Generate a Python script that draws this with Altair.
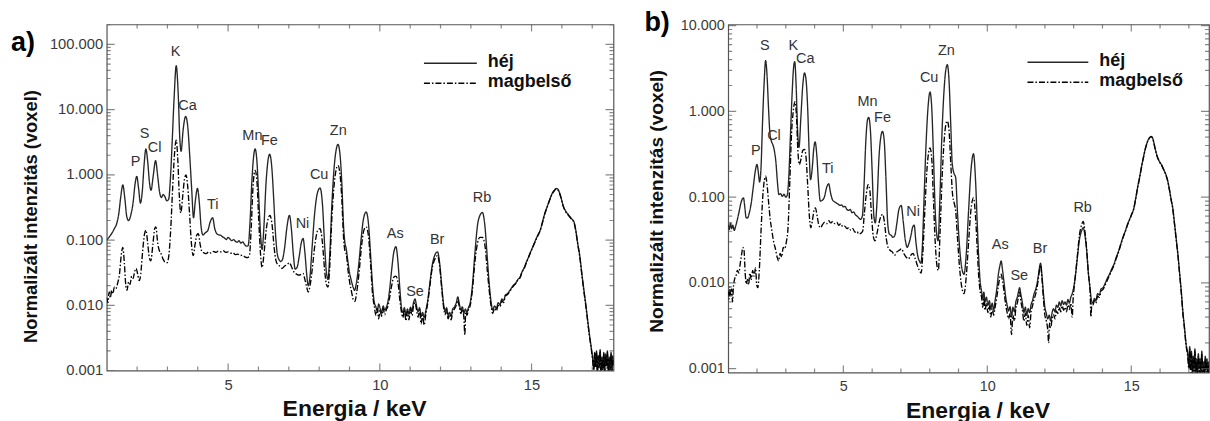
import altair as alt
import pandas as pd

FONT = "Liberation Sans"
SERIES = ["héj", "magbelső"]
SERIES_DASH = [[1, 0], [6, 2, 1.5, 2]]
SERIES_COLOR = ["#262626", "#000000"]

ENERGY_DOMAIN = [1.0, 17.7]
X_LABEL_TICKS = [5, 10, 15]
X_MINOR_TICKS = [2, 3, 4, 6, 7, 8, 9, 11, 12, 13, 14, 16, 17]

A_Y_DOMAIN = [0.001, 202]
B_Y_DOMAIN = [0.0009, 10.3]
A_Y_TICKS = [0.001, 0.01, 0.1, 1, 10, 100]
B_Y_TICKS = [0.001, 0.01, 0.1, 1, 10]

# ---- panel a) spectra (energy keV, normalised intensity) ----
shell_a = [
    (1.00, 0.100), (1.06, 0.108), (1.12, 0.118), (1.18, 0.130), (1.25, 0.150), (1.33, 0.180), (1.40, 0.26), (1.46, 0.45),
    (1.53, 0.70), (1.60, 0.42), (1.66, 0.23), (1.72, 0.20), (1.80, 0.25), (1.87, 0.38), (1.93, 0.70), (1.99, 0.95),
    (2.05, 0.62), (2.11, 0.37), (2.17, 0.55), (2.23, 1.40), (2.29, 2.5), (2.35, 1.6), (2.41, 0.75), (2.46, 0.58),
    (2.53, 0.95), (2.61, 1.65), (2.68, 0.95), (2.74, 0.55), (2.80, 0.45), (2.86, 0.50), (2.92, 0.46), (2.98, 0.40),
    (3.04, 0.42), (3.10, 0.9), (3.16, 3.5), (3.22, 15), (3.29, 47), (3.35, 20), (3.41, 3.5), (3.45, 2.3),
    (3.52, 5.0), (3.60, 7.9), (3.67, 5.5), (3.74, 1.8), (3.80, 0.6), (3.86, 0.22), (3.92, 0.40), (3.99, 0.62),
    (4.05, 0.38), (4.11, 0.16), (4.17, 0.12), (4.25, 0.13), (4.33, 0.14), (4.41, 0.19), (4.49, 0.22), (4.56, 0.15),
    (4.63, 0.125), (4.70, 0.12), (4.76, 0.118), (4.82, 0.112), (4.88, 0.108), (4.94, 0.102), (5.00, 0.110), (5.06, 0.104),
    (5.12, 0.098), (5.18, 0.102), (5.24, 0.096), (5.30, 0.093), (5.36, 0.098), (5.42, 0.090), (5.48, 0.094), (5.54, 0.086),
    (5.60, 0.081), (5.66, 0.082), (5.72, 0.18), (5.78, 0.75), (5.84, 1.9), (5.89, 2.5), (5.95, 1.6), (6.01, 0.45),
    (6.07, 0.12), (6.12, 0.072), (6.18, 0.16), (6.25, 0.75), (6.31, 1.6), (6.37, 2.07), (6.44, 1.3), (6.50, 0.45),
    (6.56, 0.13), (6.62, 0.062), (6.68, 0.050), (6.74, 0.047), (6.80, 0.052), (6.86, 0.075), (6.94, 0.16), (7.02, 0.24),
    (7.09, 0.14), (7.15, 0.06), (7.21, 0.036), (7.27, 0.038), (7.34, 0.055), (7.41, 0.09), (7.47, 0.106), (7.53, 0.065),
    (7.59, 0.03), (7.64, 0.02), (7.70, 0.028), (7.77, 0.08), (7.85, 0.25), (7.94, 0.52), (8.03, 0.63), (8.11, 0.35),
    (8.18, 0.085), (8.24, 0.032), (8.29, 0.025), (8.35, 0.06), (8.42, 0.35), (8.50, 1.4), (8.56, 2.4), (8.62, 2.94),
    (8.69, 2.0), (8.75, 0.7), (8.80, 0.18), (8.85, 0.09), (8.89, 0.075), (8.94, 0.05), (9.00, 0.032), (9.06, 0.024),
    (9.12, 0.019), (9.17, 0.017), (9.22, 0.021), (9.30, 0.04), (9.38, 0.10), (9.46, 0.21), (9.55, 0.27), (9.63, 0.17),
    (9.70, 0.055), (9.76, 0.02), (9.82, 0.011), (9.87, 0.0095), (9.92, 0.0080), (9.96, 0.0105), (10.01, 0.0090), (10.06, 0.0078),
    (10.11, 0.0098), (10.16, 0.0085), (10.21, 0.0092), (10.26, 0.011), (10.32, 0.017), (10.39, 0.035), (10.46, 0.065), (10.53, 0.079),
    (10.60, 0.045), (10.66, 0.018), (10.71, 0.0095), (10.76, 0.0078), (10.81, 0.0092), (10.86, 0.0070), (10.91, 0.0088), (10.96, 0.0073),
    (11.01, 0.0094), (11.06, 0.0082), (11.11, 0.011), (11.16, 0.0125), (11.21, 0.0098), (11.26, 0.0080), (11.31, 0.0092), (11.36, 0.0068),
    (11.41, 0.0078), (11.46, 0.0065), (11.52, 0.0085), (11.58, 0.012), (11.65, 0.022), (11.73, 0.042), (11.82, 0.060), (11.90, 0.066),
    (11.97, 0.045), (12.04, 0.020), (12.10, 0.0105), (12.15, 0.0082), (12.20, 0.0092), (12.25, 0.0070), (12.30, 0.0078), (12.35, 0.0068),
    (12.40, 0.0088), (12.46, 0.0095), (12.52, 0.011), (12.57, 0.0135), (12.62, 0.0105), (12.67, 0.0085), (12.72, 0.0095), (12.77, 0.0075),
    (12.82, 0.0088), (12.87, 0.0078), (12.92, 0.0092), (12.98, 0.011), (13.05, 0.020), (13.13, 0.06), (13.22, 0.17), (13.30, 0.24),
    (13.38, 0.265), (13.46, 0.17), (13.54, 0.055), (13.61, 0.020), (13.67, 0.011), (13.72, 0.0085), (13.78, 0.0098), (13.84, 0.0090),
    (13.90, 0.011), (13.96, 0.0102), (14.02, 0.0125), (14.08, 0.0118), (14.14, 0.0145), (14.20, 0.0150), (14.27, 0.0165), (14.34, 0.0185),
    (14.41, 0.0205), (14.48, 0.022), (14.55, 0.025), (14.62, 0.027), (14.69, 0.033), (14.76, 0.038), (14.83, 0.046), (14.90, 0.055),
    (14.95, 0.063), (15.02, 0.075), (15.10, 0.092), (15.19, 0.115), (15.28, 0.14), (15.36, 0.19), (15.44, 0.26), (15.52, 0.33),
    (15.60, 0.42), (15.68, 0.52), (15.75, 0.58), (15.82, 0.62), (15.89, 0.58), (15.96, 0.47), (16.04, 0.34), (16.12, 0.28),
    (16.20, 0.25), (16.26, 0.23), (16.33, 0.21), (16.40, 0.19), (16.46, 0.14), (16.52, 0.09), (16.59, 0.057), (16.66, 0.03),
    (16.72, 0.018), (16.78, 0.011), (16.84, 0.0065), (16.90, 0.0038), (16.96, 0.0024), (17.01, 0.0016), (17.05, 0.0011), (17.08, 0.0019),
    (17.11, 0.0012), (17.14, 0.0020), (17.17, 0.0010), (17.20, 0.0017), (17.23, 0.0012), (17.26, 0.0021), (17.29, 0.0010), (17.32, 0.0016),
    (17.35, 0.0011), (17.38, 0.0019), (17.41, 0.0010), (17.44, 0.0018), (17.47, 0.0012), (17.50, 0.0020), (17.53, 0.0010), (17.56, 0.0016),
    (17.59, 0.0011), (17.62, 0.0019), (17.65, 0.0010), (17.68, 0.0017), (17.71, 0.0012),
]

core_a = [
    (1.00, 0.013), (1.04, 0.011), (1.08, 0.016), (1.12, 0.013), (1.16, 0.017), (1.20, 0.015), (1.25, 0.019), (1.30, 0.018),
    (1.36, 0.022), (1.42, 0.030), (1.48, 0.060), (1.53, 0.077), (1.58, 0.045), (1.63, 0.020), (1.67, 0.017), (1.72, 0.023),
    (1.77, 0.021), (1.82, 0.028), (1.87, 0.026), (1.92, 0.033), (1.97, 0.037), (2.02, 0.030), (2.07, 0.024), (2.12, 0.030),
    (2.18, 0.065), (2.24, 0.12), (2.29, 0.142), (2.35, 0.09), (2.40, 0.055), (2.45, 0.048), (2.52, 0.085), (2.58, 0.15),
    (2.62, 0.16), (2.68, 0.09), (2.73, 0.070), (2.79, 0.062), (2.85, 0.052), (2.92, 0.046), (2.99, 0.045), (3.05, 0.060),
    (3.11, 0.15), (3.17, 0.6), (3.23, 2.0), (3.29, 3.4), (3.34, 1.8), (3.39, 0.5), (3.44, 0.26), (3.50, 0.45),
    (3.56, 0.85), (3.61, 1.0), (3.67, 0.65), (3.73, 0.25), (3.79, 0.09), (3.85, 0.058), (3.91, 0.085), (3.97, 0.12),
    (4.02, 0.125), (4.08, 0.085), (4.14, 0.066), (4.20, 0.064), (4.28, 0.062), (4.36, 0.066), (4.44, 0.063), (4.52, 0.067),
    (4.60, 0.065), (4.68, 0.068), (4.76, 0.066), (4.84, 0.069), (4.92, 0.065), (5.00, 0.066), (5.08, 0.063), (5.16, 0.064),
    (5.24, 0.060), (5.32, 0.061), (5.40, 0.058), (5.48, 0.059), (5.56, 0.055), (5.64, 0.054), (5.70, 0.058), (5.76, 0.15),
    (5.82, 0.65), (5.89, 1.17), (5.95, 0.8), (6.01, 0.2), (6.07, 0.06), (6.12, 0.038), (6.18, 0.06), (6.26, 0.15),
    (6.33, 0.22), (6.38, 0.24), (6.45, 0.17), (6.52, 0.075), (6.58, 0.048), (6.64, 0.042), (6.70, 0.040), (6.78, 0.037),
    (6.86, 0.040), (6.94, 0.042), (7.02, 0.045), (7.10, 0.038), (7.18, 0.032), (7.26, 0.030), (7.34, 0.029), (7.41, 0.030),
    (7.47, 0.031), (7.53, 0.025), (7.59, 0.019), (7.64, 0.016), (7.70, 0.020), (7.77, 0.035), (7.86, 0.085), (7.95, 0.14),
    (8.03, 0.15), (8.11, 0.09), (8.18, 0.035), (8.24, 0.021), (8.29, 0.019), (8.35, 0.04), (8.42, 0.22), (8.50, 0.75),
    (8.56, 1.2), (8.62, 1.40), (8.69, 1.0), (8.75, 0.4), (8.80, 0.12), (8.85, 0.068), (8.90, 0.060), (8.95, 0.035),
    (9.01, 0.022), (9.07, 0.016), (9.13, 0.012), (9.18, 0.0115), (9.23, 0.015), (9.31, 0.03), (9.39, 0.075), (9.47, 0.14),
    (9.55, 0.16), (9.63, 0.11), (9.70, 0.04), (9.76, 0.015), (9.82, 0.0095), (9.87, 0.0070), (9.92, 0.0090), (9.96, 0.0062),
    (10.01, 0.0085), (10.06, 0.0068), (10.11, 0.0090), (10.16, 0.0072), (10.21, 0.0085), (10.26, 0.0095), (10.32, 0.013), (10.39, 0.020),
    (10.46, 0.027), (10.53, 0.028), (10.60, 0.022), (10.66, 0.012), (10.71, 0.0080), (10.76, 0.0065), (10.81, 0.0085), (10.86, 0.0058),
    (10.91, 0.0080), (10.96, 0.0060), (11.01, 0.0088), (11.06, 0.0070), (11.11, 0.0098), (11.16, 0.011), (11.21, 0.0085), (11.26, 0.0066),
    (11.31, 0.0085), (11.36, 0.0052), (11.41, 0.0070), (11.46, 0.0050), (11.52, 0.0075), (11.58, 0.011), (11.65, 0.020), (11.73, 0.038),
    (11.82, 0.052), (11.90, 0.058), (11.97, 0.040), (12.04, 0.018), (12.10, 0.0095), (12.15, 0.0072), (12.20, 0.0085), (12.25, 0.0062),
    (12.30, 0.0072), (12.35, 0.0060), (12.40, 0.0080), (12.46, 0.0088), (12.52, 0.010), (12.57, 0.012), (12.62, 0.0095), (12.67, 0.0075),
    (12.72, 0.0088), (12.77, 0.0065), (12.80, 0.0035), (12.83, 0.0080), (12.87, 0.0070), (12.92, 0.0085), (12.98, 0.010), (13.05, 0.017),
    (13.13, 0.045), (13.22, 0.09), (13.30, 0.11), (13.38, 0.11), (13.46, 0.085), (13.54, 0.035), (13.61, 0.016), (13.67, 0.0095),
    (13.72, 0.0075), (13.78, 0.0090), (13.84, 0.0082), (13.90, 0.010), (13.96, 0.0095), (14.02, 0.0118), (14.08, 0.0110), (14.14, 0.0140),
    (14.20, 0.0145), (14.27, 0.0160), (14.34, 0.0180), (14.41, 0.0200), (14.48, 0.0215), (14.55, 0.0245), (14.62, 0.0265), (14.69, 0.0325),
    (14.76, 0.0370), (14.83, 0.045), (14.90, 0.054), (14.95, 0.062), (15.02, 0.074), (15.10, 0.090), (15.19, 0.113), (15.28, 0.138),
    (15.36, 0.185), (15.44, 0.255), (15.52, 0.325), (15.60, 0.415), (15.68, 0.51), (15.75, 0.57), (15.82, 0.61), (15.89, 0.57),
    (15.96, 0.46), (16.04, 0.335), (16.12, 0.275), (16.20, 0.245), (16.26, 0.225), (16.33, 0.205), (16.40, 0.185), (16.46, 0.135),
    (16.52, 0.088), (16.59, 0.055), (16.66, 0.029), (16.72, 0.017), (16.78, 0.0105), (16.84, 0.0062), (16.90, 0.0036), (16.96, 0.0023),
    (17.01, 0.0015), (17.05, 0.0010), (17.08, 0.0018), (17.11, 0.0011), (17.14, 0.0019), (17.17, 0.0009), (17.20, 0.0016), (17.23, 0.0011),
    (17.26, 0.0020), (17.29, 0.0009), (17.32, 0.0015), (17.35, 0.0010), (17.38, 0.0018), (17.41, 0.0009), (17.44, 0.0017), (17.47, 0.0011),
    (17.50, 0.0019), (17.53, 0.0009), (17.56, 0.0015), (17.59, 0.0010), (17.62, 0.0018), (17.65, 0.0009), (17.68, 0.0016), (17.71, 0.0011),
]

# ---- panel b) spectra ----
shell_b = [
    (1.00, 0.048), (1.04, 0.042), (1.08, 0.050), (1.12, 0.043), (1.16, 0.047), (1.21, 0.041), (1.26, 0.046), (1.32, 0.055),
    (1.38, 0.068), (1.44, 0.085), (1.49, 0.095), (1.53, 0.098), (1.58, 0.075), (1.62, 0.058), (1.67, 0.057), (1.73, 0.065),
    (1.80, 0.085), (1.87, 0.13), (1.94, 0.20), (2.00, 0.24), (2.05, 0.19), (2.09, 0.15), (2.14, 0.22), (2.19, 0.7),
    (2.25, 2.2), (2.30, 3.9), (2.35, 2.6), (2.40, 1.1), (2.45, 0.55), (2.50, 0.45), (2.56, 0.40), (2.61, 0.34),
    (2.66, 0.25), (2.71, 0.15), (2.76, 0.107), (2.82, 0.11), (2.88, 0.102), (2.94, 0.108), (3.00, 0.100), (3.05, 0.105),
    (3.10, 0.16), (3.16, 0.5), (3.22, 1.6), (3.27, 3.2), (3.31, 3.8), (3.36, 2.0), (3.41, 0.6), (3.46, 0.38),
    (3.52, 0.8), (3.59, 2.0), (3.65, 2.8), (3.70, 2.4), (3.76, 1.1), (3.81, 0.35), (3.86, 0.16), (3.92, 0.22),
    (3.97, 0.36), (4.02, 0.44), (4.08, 0.30), (4.14, 0.14), (4.20, 0.09), (4.27, 0.092), (4.34, 0.10), (4.42, 0.13),
    (4.49, 0.143), (4.56, 0.11), (4.63, 0.092), (4.70, 0.088), (4.76, 0.085), (4.82, 0.083), (4.88, 0.080), (4.94, 0.081),
    (5.00, 0.077), (5.06, 0.078), (5.12, 0.072), (5.18, 0.070), (5.24, 0.072), (5.30, 0.066), (5.36, 0.067), (5.42, 0.062),
    (5.48, 0.060), (5.54, 0.057), (5.60, 0.055), (5.66, 0.06), (5.72, 0.14), (5.78, 0.45), (5.84, 0.8), (5.88, 0.85),
    (5.94, 0.6), (6.00, 0.2), (6.06, 0.06), (6.11, 0.05), (6.17, 0.09), (6.24, 0.3), (6.30, 0.5), (6.36, 0.585),
    (6.42, 0.45), (6.48, 0.16), (6.54, 0.05), (6.60, 0.037), (6.66, 0.036), (6.72, 0.034), (6.79, 0.036), (6.86, 0.05),
    (6.93, 0.072), (7.01, 0.080), (7.08, 0.052), (7.15, 0.032), (7.22, 0.026), (7.28, 0.029), (7.35, 0.036), (7.41, 0.045),
    (7.46, 0.047), (7.52, 0.03), (7.58, 0.021), (7.64, 0.018), (7.69, 0.017), (7.74, 0.025), (7.80, 0.09), (7.87, 0.4),
    (7.94, 1.1), (8.01, 1.68), (8.07, 1.1), (8.13, 0.3), (8.19, 0.07), (8.25, 0.035), (8.29, 0.031), (8.35, 0.09),
    (8.42, 0.5), (8.49, 1.6), (8.55, 2.9), (8.61, 3.5), (8.67, 2.3), (8.73, 0.7), (8.78, 0.25), (8.84, 0.19),
    (8.90, 0.17), (8.96, 0.07), (9.03, 0.028), (9.10, 0.016), (9.19, 0.0126), (9.27, 0.022), (9.35, 0.07), (9.43, 0.2),
    (9.52, 0.32), (9.59, 0.16), (9.65, 0.05), (9.70, 0.02), (9.75, 0.0105), (9.80, 0.0080), (9.84, 0.0065), (9.88, 0.0078),
    (9.92, 0.0060), (9.97, 0.0068), (10.02, 0.0055), (10.07, 0.0062), (10.12, 0.0050), (10.17, 0.0058), (10.22, 0.0048), (10.27, 0.0062),
    (10.33, 0.0085), (10.39, 0.013), (10.44, 0.016), (10.48, 0.018), (10.53, 0.014), (10.59, 0.0095), (10.64, 0.0068), (10.69, 0.0055),
    (10.74, 0.0047), (10.79, 0.0053), (10.84, 0.0040), (10.89, 0.0052), (10.94, 0.0046), (10.99, 0.0060), (11.04, 0.0068), (11.08, 0.0078),
    (11.12, 0.0088), (11.17, 0.0072), (11.22, 0.0058), (11.27, 0.0045), (11.32, 0.0052), (11.37, 0.0042), (11.42, 0.0050), (11.47, 0.0045),
    (11.52, 0.0056), (11.57, 0.0062), (11.62, 0.0074), (11.67, 0.0082), (11.72, 0.0095), (11.77, 0.012), (11.81, 0.015), (11.85, 0.017),
    (11.90, 0.012), (11.95, 0.0075), (12.00, 0.0052), (12.05, 0.0044), (12.10, 0.0038), (12.15, 0.0042), (12.20, 0.0036), (12.25, 0.0045),
    (12.30, 0.0050), (12.35, 0.0046), (12.40, 0.0055), (12.45, 0.0052), (12.50, 0.0060), (12.55, 0.0054), (12.60, 0.0062), (12.65, 0.0056),
    (12.70, 0.0060), (12.75, 0.0055), (12.80, 0.0064), (12.85, 0.0058), (12.90, 0.0068), (12.95, 0.0075), (13.01, 0.0092), (13.07, 0.013),
    (13.13, 0.020), (13.20, 0.032), (13.27, 0.040), (13.33, 0.044), (13.39, 0.036), (13.45, 0.024), (13.51, 0.013), (13.57, 0.0085),
    (13.62, 0.0062), (13.67, 0.0058), (13.72, 0.0066), (13.77, 0.0062), (13.83, 0.0075), (13.89, 0.0072), (13.95, 0.0085), (14.02, 0.0088),
    (14.10, 0.0100), (14.18, 0.0115), (14.26, 0.0130), (14.33, 0.0148), (14.40, 0.0165), (14.47, 0.0195), (14.55, 0.023), (14.63, 0.028),
    (14.71, 0.034), (14.79, 0.040), (14.87, 0.048), (14.95, 0.056), (15.02, 0.064), (15.08, 0.072), (15.15, 0.095), (15.22, 0.13),
    (15.29, 0.17), (15.36, 0.23), (15.43, 0.30), (15.50, 0.38), (15.57, 0.45), (15.63, 0.49), (15.69, 0.51), (15.75, 0.48),
    (15.82, 0.38), (15.90, 0.30), (15.98, 0.26), (16.06, 0.235), (16.14, 0.205), (16.21, 0.18), (16.27, 0.153), (16.33, 0.12),
    (16.39, 0.092), (16.44, 0.075), (16.50, 0.05), (16.56, 0.033), (16.62, 0.0215), (16.68, 0.013), (16.74, 0.0078), (16.79, 0.0047),
    (16.85, 0.0030), (16.90, 0.0020), (16.96, 0.0015), (17.00, 0.0011), (17.03, 0.0018), (17.06, 0.0010), (17.09, 0.0016), (17.12, 0.0009),
    (17.15, 0.0014), (17.18, 0.0010), (17.21, 0.0017), (17.24, 0.0009), (17.27, 0.0013), (17.30, 0.0009), (17.33, 0.0015), (17.36, 0.0010),
    (17.39, 0.0013), (17.42, 0.0009), (17.45, 0.0016), (17.48, 0.0010), (17.51, 0.0012), (17.54, 0.0009), (17.57, 0.0014), (17.60, 0.0010),
    (17.63, 0.0013), (17.66, 0.0009), (17.69, 0.0012), (17.71, 0.0010),
]

core_b = [
    (1.00, 0.0081), (1.03, 0.0065), (1.06, 0.0090), (1.09, 0.0070), (1.12, 0.0085), (1.15, 0.0060), (1.18, 0.0088), (1.22, 0.011),
    (1.27, 0.012), (1.32, 0.014), (1.37, 0.013), (1.42, 0.017), (1.47, 0.022), (1.51, 0.026), (1.55, 0.024), (1.59, 0.013),
    (1.63, 0.0097), (1.67, 0.011), (1.71, 0.0095), (1.75, 0.013), (1.80, 0.011), (1.85, 0.014), (1.90, 0.012), (1.95, 0.015),
    (1.99, 0.0095), (2.03, 0.0088), (2.08, 0.014), (2.14, 0.04), (2.20, 0.10), (2.26, 0.16), (2.30, 0.175), (2.35, 0.14),
    (2.40, 0.09), (2.46, 0.055), (2.52, 0.04), (2.58, 0.03), (2.64, 0.025), (2.70, 0.020), (2.75, 0.018), (2.80, 0.022),
    (2.86, 0.020), (2.91, 0.026), (2.96, 0.025), (3.02, 0.030), (3.08, 0.045), (3.14, 0.15), (3.20, 0.55), (3.26, 1.0),
    (3.32, 1.3), (3.37, 0.9), (3.42, 0.35), (3.47, 0.24), (3.53, 0.28), (3.59, 0.35), (3.65, 0.36), (3.70, 0.30),
    (3.76, 0.14), (3.82, 0.06), (3.87, 0.044), (3.93, 0.055), (3.98, 0.070), (4.03, 0.075), (4.09, 0.06), (4.15, 0.047),
    (4.21, 0.044), (4.28, 0.048), (4.35, 0.051), (4.42, 0.049), (4.49, 0.053), (4.56, 0.050), (4.63, 0.052), (4.70, 0.049),
    (4.77, 0.051), (4.84, 0.047), (4.91, 0.049), (4.98, 0.045), (5.05, 0.046), (5.12, 0.043), (5.19, 0.044), (5.26, 0.041),
    (5.33, 0.043), (5.40, 0.039), (5.47, 0.040), (5.54, 0.037), (5.61, 0.038), (5.67, 0.040), (5.73, 0.065), (5.80, 0.11),
    (5.86, 0.14), (5.92, 0.12), (5.98, 0.06), (6.04, 0.035), (6.10, 0.031), (6.17, 0.038), (6.25, 0.052), (6.31, 0.060),
    (6.37, 0.063), (6.43, 0.05), (6.49, 0.033), (6.55, 0.026), (6.62, 0.024), (6.70, 0.023), (6.78, 0.021), (6.86, 0.023),
    (6.94, 0.024), (7.02, 0.025), (7.10, 0.022), (7.18, 0.020), (7.26, 0.019), (7.34, 0.021), (7.42, 0.022), (7.50, 0.019),
    (7.57, 0.016), (7.64, 0.014), (7.70, 0.013), (7.76, 0.022), (7.83, 0.07), (7.90, 0.20), (7.96, 0.33), (8.01, 0.375),
    (8.07, 0.28), (8.13, 0.09), (8.19, 0.03), (8.25, 0.016), (8.30, 0.014), (8.36, 0.04), (8.43, 0.17), (8.50, 0.45),
    (8.56, 0.70), (8.61, 0.77), (8.67, 0.6), (8.73, 0.25), (8.79, 0.11), (8.85, 0.085), (8.90, 0.07), (8.96, 0.035),
    (9.03, 0.016), (9.10, 0.0095), (9.19, 0.0075), (9.27, 0.012), (9.35, 0.03), (9.43, 0.07), (9.52, 0.098), (9.59, 0.06),
    (9.65, 0.025), (9.70, 0.012), (9.75, 0.0080), (9.80, 0.0068), (9.84, 0.0052), (9.88, 0.0066), (9.92, 0.0048), (9.97, 0.0058),
    (10.02, 0.0045), (10.07, 0.0055), (10.12, 0.0040), (10.17, 0.0050), (10.22, 0.0042), (10.27, 0.0052), (10.33, 0.0068), (10.39, 0.0095),
    (10.44, 0.0118), (10.48, 0.0126), (10.53, 0.0105), (10.59, 0.0075), (10.64, 0.0055), (10.69, 0.0045), (10.74, 0.0038), (10.79, 0.0044),
    (10.84, 0.0025), (10.89, 0.0042), (10.94, 0.0036), (10.99, 0.0050), (11.04, 0.0058), (11.08, 0.0068), (11.12, 0.0078), (11.17, 0.0060),
    (11.22, 0.0048), (11.27, 0.0036), (11.32, 0.0044), (11.37, 0.0032), (11.42, 0.0042), (11.47, 0.0030), (11.52, 0.0046), (11.57, 0.0054),
    (11.62, 0.0064), (11.67, 0.0072), (11.72, 0.0085), (11.77, 0.011), (11.81, 0.014), (11.85, 0.016), (11.90, 0.011), (11.95, 0.0065),
    (12.00, 0.0042), (12.05, 0.0036), (12.10, 0.0028), (12.13, 0.0020), (12.16, 0.0034), (12.20, 0.0030), (12.25, 0.0038), (12.30, 0.0043),
    (12.35, 0.0038), (12.40, 0.0047), (12.45, 0.0044), (12.50, 0.0052), (12.55, 0.0046), (12.60, 0.0054), (12.65, 0.0048), (12.70, 0.0052),
    (12.75, 0.0046), (12.80, 0.0055), (12.85, 0.0049), (12.90, 0.0058), (12.95, 0.0040), (12.98, 0.0065), (13.01, 0.0085), (13.07, 0.013),
    (13.13, 0.021), (13.20, 0.036), (13.27, 0.047), (13.33, 0.052), (13.39, 0.040), (13.45, 0.025), (13.51, 0.013), (13.57, 0.0080),
    (13.60, 0.0040), (13.63, 0.0058), (13.67, 0.0055), (13.72, 0.0062), (13.77, 0.0058), (13.83, 0.0070), (13.89, 0.0068), (13.95, 0.0080),
    (14.02, 0.0084), (14.10, 0.0095), (14.18, 0.0110), (14.26, 0.0125), (14.33, 0.0142), (14.40, 0.0160), (14.47, 0.0190), (14.55, 0.0225),
    (14.63, 0.0275), (14.71, 0.0335), (14.79, 0.0395), (14.87, 0.0475), (14.95, 0.0555), (15.02, 0.0635), (15.08, 0.0715), (15.15, 0.094),
    (15.22, 0.128), (15.29, 0.168), (15.36, 0.228), (15.43, 0.297), (15.50, 0.377), (15.57, 0.447), (15.63, 0.487), (15.69, 0.507),
    (15.75, 0.477), (15.82, 0.378), (15.90, 0.298), (15.98, 0.258), (16.06, 0.233), (16.14, 0.203), (16.21, 0.178), (16.27, 0.152),
    (16.33, 0.119), (16.39, 0.091), (16.44, 0.074), (16.50, 0.049), (16.56, 0.032), (16.62, 0.021), (16.68, 0.0125), (16.74, 0.0075),
    (16.79, 0.0045), (16.85, 0.0029), (16.90, 0.0019), (16.96, 0.0014), (17.00, 0.0010), (17.03, 0.0017), (17.06, 0.0009), (17.09, 0.0015),
    (17.12, 0.0008), (17.15, 0.0013), (17.18, 0.0009), (17.21, 0.0016), (17.24, 0.0008), (17.27, 0.0012), (17.30, 0.0008), (17.33, 0.0014),
    (17.36, 0.0009), (17.39, 0.0012), (17.42, 0.0008), (17.45, 0.0015), (17.48, 0.0009), (17.51, 0.0011), (17.54, 0.0008), (17.57, 0.0013),
    (17.60, 0.0009), (17.63, 0.0012), (17.66, 0.0008), (17.69, 0.0011), (17.71, 0.0009),
]

# ---- element annotations ----
elements = ["P", "S", "Cl", "K", "Ca", "Ti", "Mn", "Fe", "Ni", "Cu", "Zn", "As", "Se", "Br", "Rb"]
elem_a_E = [1.95, 2.25, 2.58, 3.27, 3.66, 4.49, 5.80, 6.36, 7.45, 8.00, 8.63, 10.51, 11.16, 11.89, 13.37]
elem_a_V = [1.6, 4.3, 2.6, 76, 11.5, 0.34, 4.0, 3.3, 0.174, 0.98, 4.75, 0.122, 0.0158, 0.102, 0.435]
elem_b_E = [1.96, 2.27, 2.59, 3.26, 3.68, 4.46, 5.84, 6.36, 7.42, 7.98, 8.58, 10.45, 11.11, 11.83, 13.31]
elem_b_V = [0.343, 5.7, 0.51, 5.7, 4.1, 0.214, 1.27, 0.836, 0.0676, 2.44, 5.07, 0.028, 0.012, 0.025, 0.075]

Y_TITLE = "Normalizált intenzitás (voxel)"
X_TITLE = "Energia / keV"
FRAME = "#555555"


def minor_log_ticks(decades, lo, hi):
    out = []
    for d in decades:
        for m in range(2, 10):
            v = d * m
            if lo < v < hi:
                out.append(v)
    return out


def panel(shell, core, el_E, el_V, y_domain, y_ticks, W, H, lab_size, yt_size,
          yt_x, yt_y, xt_x, tag, tag_x, tag_y, leg_x, leg_y, leg_len):
    rows = [{"E": e, "V": v, "s": SERIES[0]} for e, v in shell]
    rows += [{"E": e, "V": v, "s": SERIES[1]} for e, v in core]
    spec = pd.DataFrame(rows)

    xs = alt.Scale(domain=ENERGY_DOMAIN, nice=False, zero=False)
    ys = alt.Scale(type="log", domain=y_domain, nice=False)
    x_axis = alt.Axis(values=X_LABEL_TICKS, ticks=False, domain=False, grid=False,
                      labelFontSize=lab_size, labelColor="#3a3a3a", labelPadding=7,
                      title=X_TITLE, titleFontSize=23, titleFontWeight="bold",
                      titleColor="#111111", titleX=xt_x, titleY=45,
                      titleAlign="center", titleBaseline="alphabetic")
    y_axis = alt.Axis(values=y_ticks, format=".3f", ticks=False, domain=False, grid=False,
                      labelFontSize=lab_size, labelColor="#3a3a3a", labelPadding=4,
                      title=Y_TITLE, titleFontSize=yt_size, titleFontWeight="bold",
                      titleColor="#111111", titleX=yt_x, titleY=yt_y,
                      titleAlign="center", titleBaseline="alphabetic")
    X = alt.X("E:Q", scale=xs, axis=x_axis)
    Y = alt.Y("V:Q", scale=ys, axis=y_axis)

    lines = alt.Chart(spec).mark_line(interpolate="monotone", clip=True, strokeWidth=1.35).encode(
        x=X, y=Y,
        color=alt.Color("s:N", scale=alt.Scale(domain=SERIES, range=SERIES_COLOR), legend=None),
        strokeDash=alt.StrokeDash("s:N", scale=alt.Scale(domain=SERIES, range=SERIES_DASH), legend=None),
    )

    layers = [lines]
    # inward ticks on all four sides (half of each centred tick is clipped away)
    x_major = pd.DataFrame({"E": X_LABEL_TICKS})
    x_minor = pd.DataFrame({"E": X_MINOR_TICKS})
    y_major = pd.DataFrame({"V": y_ticks})
    y_minor = pd.DataFrame({"V": minor_log_ticks(y_ticks, y_domain[0], y_domain[1])})
    for df, size in [(x_major, 14), (x_minor, 8)]:
        for yy in [0, H]:
            layers.append(alt.Chart(df).mark_tick(orient="vertical", size=size, thickness=1.2,
                                                  color=FRAME, clip=True)
                          .encode(x=X, y=alt.value(yy)))
    for df, size in [(y_major, 16), (y_minor, 8)]:
        for xx in [0, W]:
            layers.append(alt.Chart(df).mark_tick(orient="horizontal", size=size, thickness=1.2,
                                                  color=FRAME, clip=True)
                          .encode(y=Y, x=alt.value(xx)))

    lab = pd.DataFrame({"name": elements, "E": el_E, "V": el_V})
    layers.append(alt.Chart(lab).mark_text(fontSize=14.5, color="#333333").encode(
        x=X, y=Y, text="name:N"))

    # legend drawn inside the plot
    for i, name in enumerate(SERIES):
        ld = pd.DataFrame({"s": [name]})
        layers.append(alt.Chart(ld).mark_rule(strokeDash=SERIES_DASH[i], color=SERIES_COLOR[i],
                                              strokeWidth=1.5).encode(
            x=alt.value(leg_x), x2=alt.value(leg_x + leg_len), y=alt.value(leg_y + 20 * i)))
        layers.append(alt.Chart(ld).mark_text(align="left", baseline="middle", fontSize=18,
                                              fontWeight="bold", color="#111111").encode(
            x=alt.value(leg_x + leg_len + 11), y=alt.value(leg_y + 20 * i - 1), text="s:N"))

    td = pd.DataFrame({"t": [tag]})
    layers.append(alt.Chart(td).mark_text(align="left", baseline="alphabetic", fontSize=27,
                                          fontWeight="bold", color="#000000").encode(
        x=alt.value(tag_x), y=alt.value(tag_y), text="t:N"))

    return alt.layer(*layers).properties(width=W, height=H)


pa = panel(shell_a, core_a, elem_a_E, elem_a_V, A_Y_DOMAIN, A_Y_TICKS, 508, 347, 14.8, 18.4,
           -70, 192, 248, "a)", -96, 26.5, 318, 39, 53)
pb = panel(shell_b, core_b, elem_b_E, elem_b_V, B_Y_DOMAIN, B_Y_TICKS, 482, 349, 14.4, 19.1,
           -66, 177, 250, "b)", -84, 7, 300, 38, 61)

chart = (
    alt.hconcat(pa, pb, spacing=29)
    .resolve_scale(x="independent", y="independent")
    .properties(padding={"left": 10, "top": 8, "right": 0, "bottom": 0}, background="white")
    .configure(font=FONT)
    .configure_view(stroke=FRAME, strokeWidth=1.2)
)

chart.save("out.html", embed_options={"renderer": "svg", "actions": False})
